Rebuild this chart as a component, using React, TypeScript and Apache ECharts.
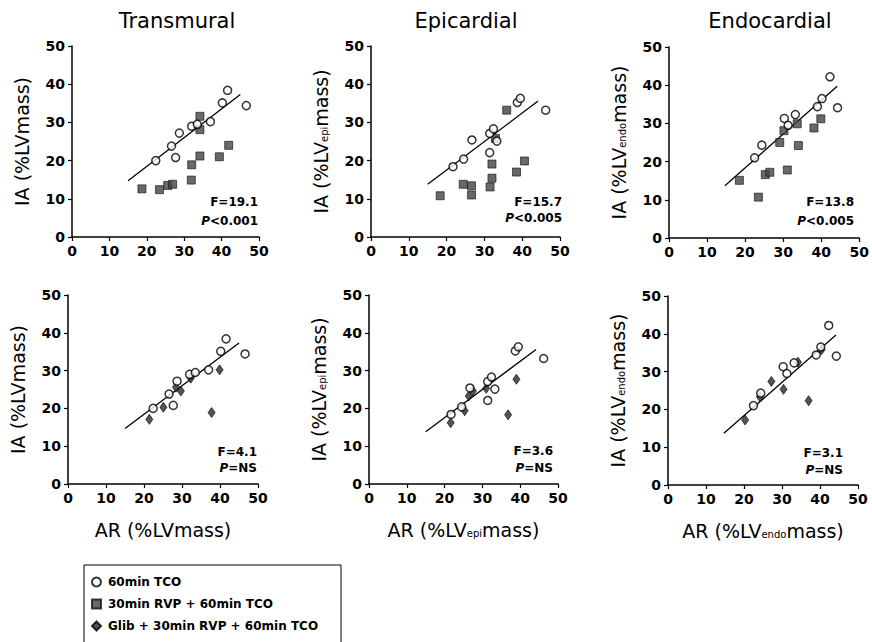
import React, { useEffect, useRef } from "react";
import * as echarts from "echarts";

const FONT = "'DejaVu Sans', 'Liberation Sans', sans-serif";

// ---- data ----
const panelTitles = ["Transmural", "Epicardial", "Endocardial"];
const seriesNames = ["60min TCO", "30min RVP + 60min TCO", "Glib + 30min RVP + 60min TCO"];
const axisTicks = [0, 10, 20, 30, 40, 50];

const transControl = [[22.4, 20.0], [26.6, 23.8], [27.7, 20.8], [28.7, 27.2], [32.0, 29.0], [33.5, 29.5], [37.0, 30.2], [40.2, 35.1], [41.6, 38.4], [46.6, 34.4]];
const transRVP = [[18.7, 12.6], [23.4, 12.4], [25.6, 13.5], [26.9, 13.8], [31.9, 14.9], [32.0, 18.9], [34.2, 21.2], [34.2, 31.6], [34.2, 28.1], [39.4, 21.0], [41.9, 24.0]];
const transGlib = [[21.4, 17.1], [25.1, 20.3], [28.4, 25.6], [29.7, 24.6], [32.3, 28.0], [37.8, 18.9], [39.9, 30.2]];
const transFit = [[15.0, 14.7], [45.0, 37.3]];

const epiControl = [[21.7, 18.4], [24.5, 20.4], [26.7, 25.4], [31.4, 22.1], [31.4, 27.1], [32.4, 28.3], [33.3, 25.1], [38.7, 35.2], [39.5, 36.3], [46.2, 33.2]];
const epiRVP = [[18.3, 10.8], [24.4, 13.8], [26.6, 13.4], [26.6, 11.0], [31.5, 13.1], [32.0, 15.4], [32.0, 19.1], [32.9, 25.8], [35.9, 33.2], [38.5, 17.0], [40.6, 19.9]];
const epiGlib = [[21.6, 16.2], [25.3, 19.4], [26.4, 23.3], [27.5, 24.6], [31.0, 25.3], [36.8, 18.3], [39.0, 27.7]];
const epiFit = [[15.0, 13.8], [44.2, 35.6]];

const endoControl = [[22.5, 21.0], [24.4, 24.3], [30.3, 31.3], [31.3, 29.5], [33.2, 32.3], [39.0, 34.4], [40.2, 36.5], [42.3, 42.2], [44.3, 34.1]];
const endoRVP = [[18.5, 15.1], [23.5, 10.7], [25.3, 16.6], [26.5, 17.2], [29.1, 25.0], [30.2, 28.1], [31.1, 17.8], [33.7, 29.9], [34.0, 24.2], [38.1, 28.8], [39.9, 31.2]];
const endoGlib = [[20.3, 17.2], [24.2, 23.3], [27.2, 27.4], [30.4, 25.3], [34.2, 32.5], [37.0, 22.3], [40.4, 35.8]];
const endoFit = [[14.7, 13.7], [44.2, 39.7]];

const statsTop = [["F=19.1", "P<0.001"], ["F=15.7", "P<0.005"], ["F=13.8", "P<0.005"]];
const statsBottom = [["F=4.1", "P=NS"], ["F=3.6", "P=NS"], ["F=3.1", "P=NS"]];

const yNames = ["IA (%LVmass)", "IA (%LV{sub|epi}mass)", "IA (%LV{sub|endo}mass)"];
const xNames = ["AR (%LVmass)", "AR (%LV{sub|epi}mass)", "AR (%LV{sub|endo}mass)"];

// ---- layout ----
const grids = [
  { left: 72, top: 46, width: 187, height: 191 },
  { left: 371, top: 46, width: 189, height: 191 },
  { left: 669, top: 47, width: 192, height: 191 },
  { left: 68, top: 295, width: 190, height: 189 },
  { left: 369, top: 295, width: 189, height: 189 },
  { left: 668, top: 296, width: 190, height: 189 },
];

export default function App() {
  const ref = useRef<HTMLDivElement>(null);
  useEffect(() => {
    if (!ref.current) return;
    const chart = echarts.init(ref.current, null, { renderer: "svg" });

    const rich = { sub: { fontSize: 10, fontFamily: FONT, color: "#000", padding: [8, 0, 0, 0] } };
    const axisCommon = {
      min: axisTicks[0],
      max: axisTicks[axisTicks.length - 1],
      interval: 10,
      splitLine: { show: false },
      axisLine: { show: true, onZero: false, lineStyle: { color: "#000", width: 1.5 } },
      axisTick: { show: true, inside: false, length: 4, lineStyle: { color: "#000", width: 1.2 } },
      axisLabel: { color: "#000", fontFamily: FONT, fontWeight: "bold", fontSize: 14, margin: 7 },
    };

    const xAxis: any[] = [];
    const yAxis: any[] = [];
    for (let i = 0; i < 6; i++) {
      const col = i % 3;
      const bottomRow = i >= 3;
      xAxis.push({
        ...axisCommon,
        type: "value",
        gridIndex: i,
        name: bottomRow ? xNames[col] : "",
        nameLocation: "middle",
        nameGap: 36,
        nameTextStyle: { color: "#000", fontFamily: FONT, fontSize: 19, rich },
      });
      yAxis.push({
        ...axisCommon,
        type: "value",
        gridIndex: i,
        name: yNames[col],
        nameLocation: "middle",
        nameGap: 41,
        nameTextStyle: { color: "#000", fontFamily: FONT, fontSize: 19, rich },
      });
    }

    const panels = [
      [transControl, transRVP, transFit],
      [epiControl, epiRVP, epiFit],
      [endoControl, endoRVP, endoFit],
      [transControl, transGlib, transFit],
      [epiControl, epiGlib, epiFit],
      [endoControl, endoGlib, endoFit],
    ];

    const series: any[] = [];
    panels.forEach((p, i) => {
      const bottomRow = i >= 3;
      series.push({
        type: "line",
        name: "fit",
        xAxisIndex: i,
        yAxisIndex: i,
        data: p[2],
        showSymbol: false,
        symbol: "none",
        lineStyle: { color: "#000", width: 1.3 },
        z: 1,
      });
      series.push({
        type: "scatter",
        name: bottomRow ? seriesNames[2] : seriesNames[1],
        xAxisIndex: i,
        yAxisIndex: i,
        data: p[1],
        symbol: bottomRow ? "diamond" : "rect",
        symbolSize: bottomRow ? [7, 10] : 8,
        itemStyle: bottomRow
          ? { color: "#2a2a2a", borderColor: "#000", borderWidth: 0.8 }
          : { color: "#444", borderColor: "#111", borderWidth: 0.8 },
        z: 2,
      });
      series.push({
        type: "scatter",
        name: seriesNames[0],
        xAxisIndex: i,
        yAxisIndex: i,
        data: p[0],
        symbol: "circle",
        symbolSize: 8,
        itemStyle: { color: "#fff", borderColor: "#000", borderWidth: 1.5 },
        z: 3,
      });
    });

    const statRight = [258, 562, 854, 257, 553, 843];
    const statY = [202, 202, 202, 452, 451, 453];
    const statGap = [19, 16, 19, 16, 17, 17];
    const graphic: any[] = [];
    [...statsTop, ...statsBottom].forEach((s, i) => {
      graphic.push({
        type: "text",
        x: statRight[i],
        y: statY[i],
        style: {
          text: s[0],
          align: "right",
          verticalAlign: "middle",
          fontFamily: FONT,
          fontWeight: "bold",
          fontSize: 12,
          fill: "#000",
        },
      });
      graphic.push({
        type: "text",
        x: statRight[i],
        y: statY[i] + statGap[i],
        style: {
          text: "{i|P}" + s[1].slice(1),
          align: "right",
          verticalAlign: "middle",
          fontFamily: FONT,
          fontWeight: "bold",
          fontSize: 12,
          fill: "#000",
          rich: { i: { fontFamily: FONT, fontWeight: "bold", fontStyle: "italic", fontSize: 12, fill: "#000" } },
        },
      });
    });
    graphic.push({
      type: "rect",
      shape: { x: 84, y: 565, width: 257, height: 85 },
      style: { fill: "none", stroke: "#000", lineWidth: 1 },
    });

    chart.setOption({
      animation: false,
      backgroundColor: "#fff",
      title: panelTitles.map((t, i) => ({
        text: t,
        left: [172, 461, 765][i],
        top: 5,
        textAlign: "center",
        textStyle: { fontFamily: FONT, fontSize: 21, fontWeight: "normal", color: "#000" },
      })),
      grid: grids,
      xAxis,
      yAxis,
      series,
      legend: {
        orient: "vertical",
        left: 86,
        top: 571,
        itemWidth: 9,
        itemHeight: 9,
        itemGap: 10,
        data: [
          { name: seriesNames[0], icon: "circle" },
          { name: seriesNames[1], icon: "rect" },
          { name: seriesNames[2], icon: "diamond" },
        ],
        textStyle: { fontFamily: FONT, fontWeight: "bold", fontSize: 12, color: "#000", padding: [0, 0, 0, 2] },
        selectedMode: false,
      },
      graphic,
    });
    return () => chart.dispose();
  }, []);
  return (
    <div
      ref={ref}
      style={{ position: "fixed", left: 0, top: 0, width: 872, height: 642, background: "#fff" }}
    />
  );
}
